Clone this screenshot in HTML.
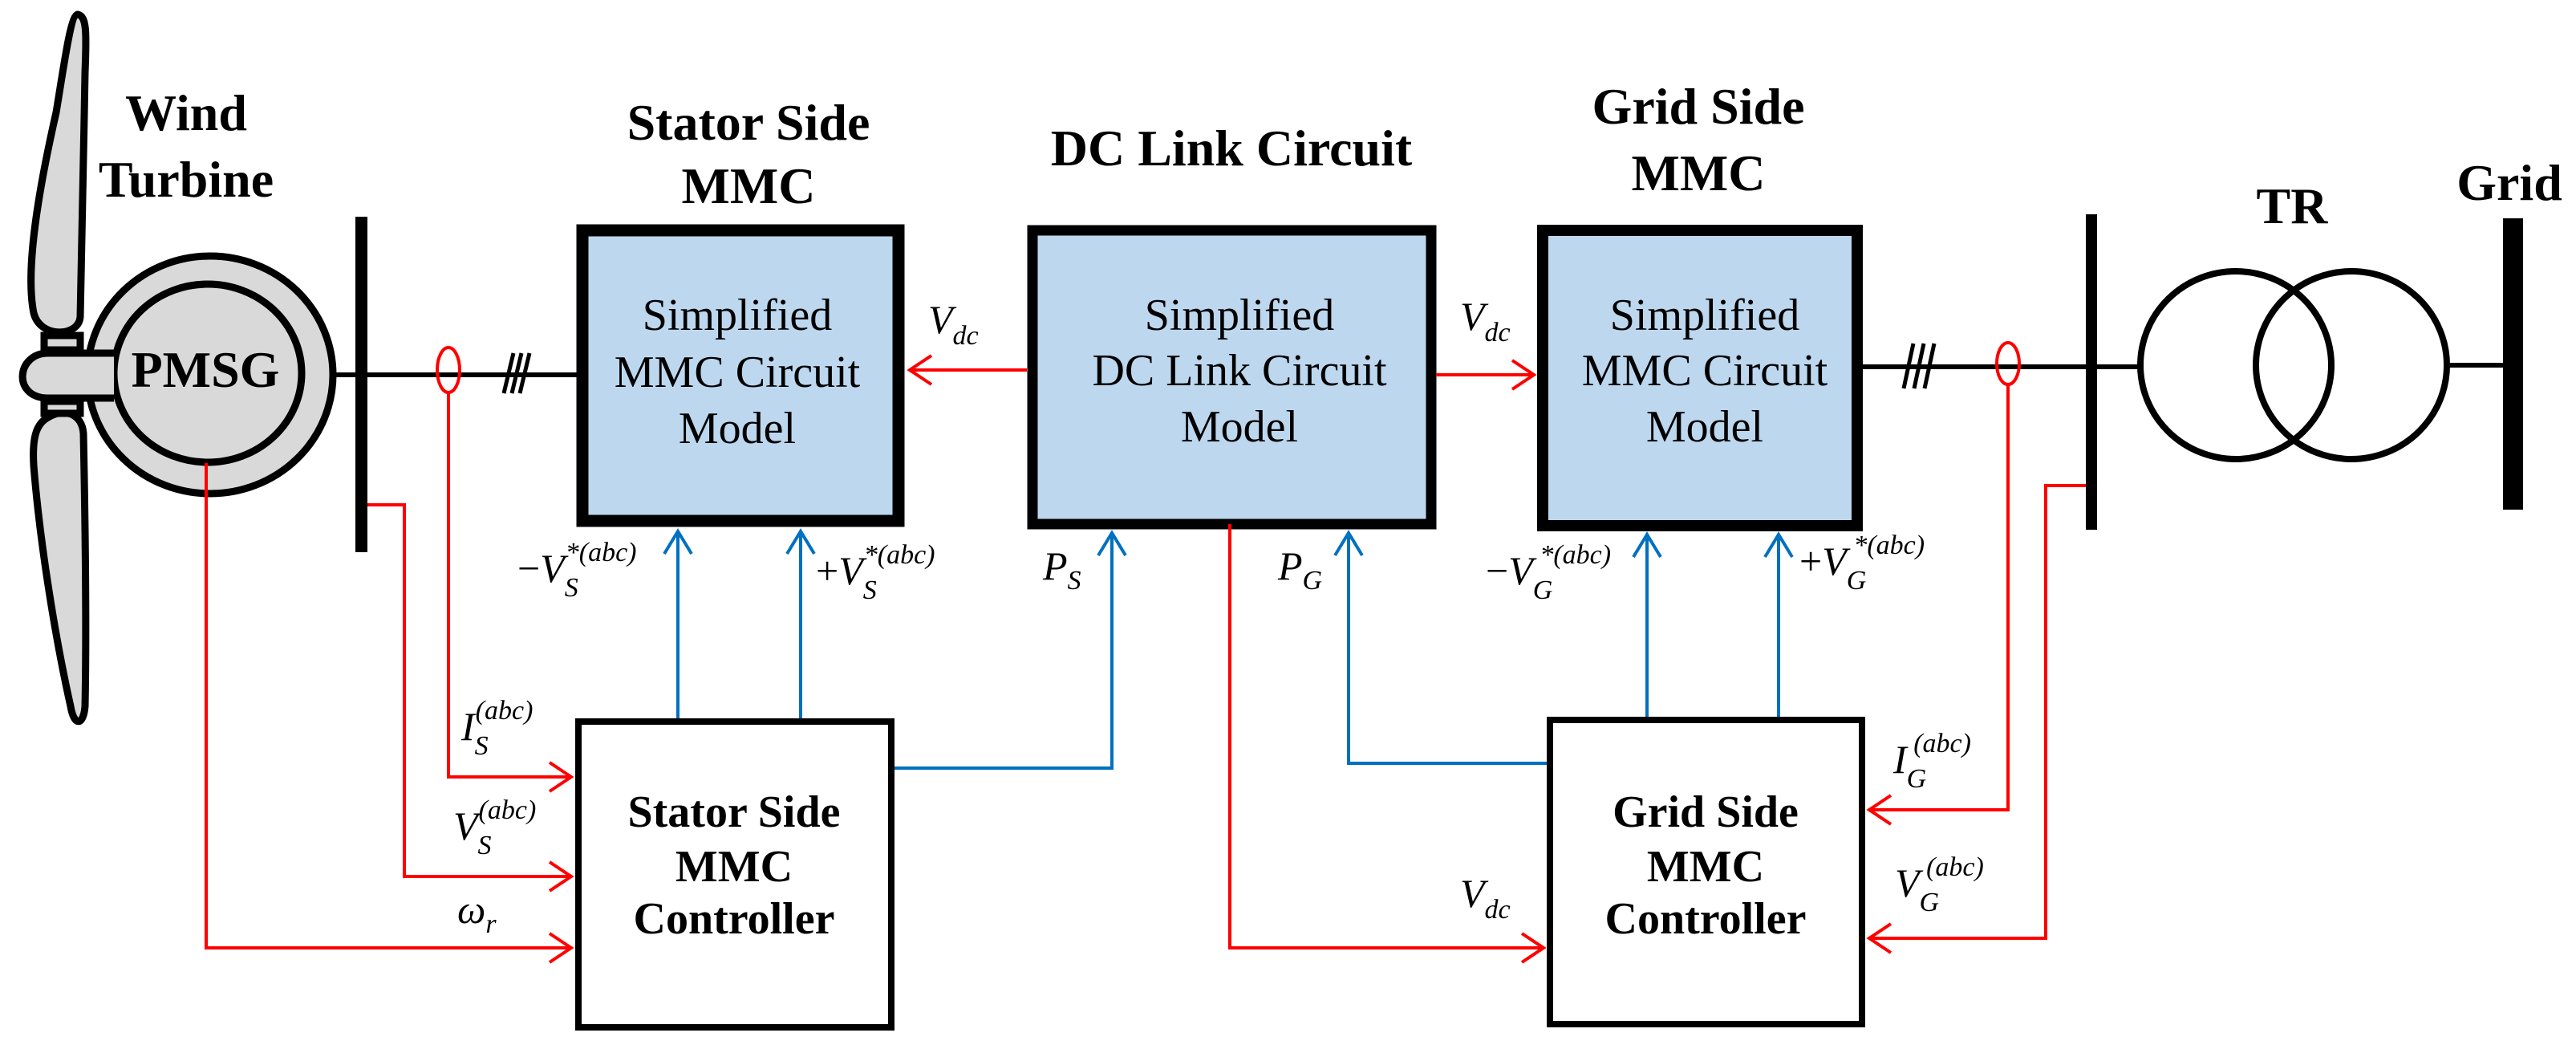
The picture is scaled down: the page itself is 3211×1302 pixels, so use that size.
<!DOCTYPE html>
<html><head><meta charset="utf-8"><style>
html,body{margin:0;padding:0;background:#fff;}
svg{display:block;}
text{font-family:"Liberation Serif","DejaVu Serif","Times New Roman",serif;}
.t{font-weight:bold;fill:#000;}
.m{font-style:normal;fill:#000;}
.i{font-style:italic;fill:#000;}
</style></head><body>
<svg width="3211" height="1302" viewBox="0 0 3211 1302" xmlns="http://www.w3.org/2000/svg" font-family="Liberation Serif, DejaVu Serif, serif">
<g fill="#d9d9d9" stroke="#000" stroke-width="9">
<path d="M97,18 C108,20 108,40 106,90 C104,200 102,320 100,395 C98,420 50,422 42,390 C32,340 45,250 70,140 C80,80 88,18 97,18 Z"/>
<path d="M60,520 C80,508 102,515 104,540 C106,640 108,780 106,880 C104,905 92,905 88,880 C70,800 50,680 42,580 C40,545 45,528 60,520 Z"/>
<rect x="55" y="418" width="45" height="18"/>
<rect x="55" y="500" width="45" height="15"/>
<ellipse cx="262" cy="467" rx="153" ry="148"/>
<ellipse cx="259" cy="465" rx="117" ry="111"/>
<path d="M142,440 L60,440 C20,440 15,496 60,496 L142,496"/>
</g>
<text class="t" font-family="Liberation Serif, serif" x="256" y="482" font-size="64" text-anchor="middle">PMSG</text>
<text class="t" font-family="Liberation Serif, serif" x="232" y="162" font-size="64" text-anchor="middle">Wind</text>
<text class="t" font-family="Liberation Serif, serif" x="232" y="245" font-size="64" text-anchor="middle">Turbine</text>
<rect x="443" y="270" width="15" height="418" fill="#000"/>
<line x1="415" y1="467" x2="719" y2="467" stroke="#000" stroke-width="6"/>
<g stroke="#000" stroke-width="5"><line x1="628" y1="490" x2="640" y2="440"/><line x1="638" y1="490" x2="650" y2="440"/><line x1="648" y1="490" x2="660" y2="440"/></g>
<rect x="726" y="287" width="394" height="362" fill="#bdd7ee" stroke="#000" stroke-width="15"/>
<text class="t" font-family="Liberation Serif, serif" x="933" y="174" font-size="64" text-anchor="middle">Stator Side</text>
<text class="t" font-family="Liberation Serif, serif" x="933" y="253" font-size="64" text-anchor="middle">MMC</text>
<g class="m" font-family="Liberation Serif, serif" font-size="56" text-anchor="middle"><text x="919" y="411">Simplified</text><text x="919" y="482">MMC Circuit</text><text x="919" y="552">Model</text></g>
<rect x="1287" y="287" width="497" height="366" fill="#bdd7ee" stroke="#000" stroke-width="13"/>
<text class="t" font-family="Liberation Serif, serif" x="1535" y="206" font-size="64" text-anchor="middle">DC Link Circuit</text>
<g class="m" font-family="Liberation Serif, serif" font-size="56" text-anchor="middle"><text x="1545" y="411">Simplified</text><text x="1545" y="480">DC Link Circuit</text><text x="1545" y="550">Model</text></g>
<rect x="1923" y="287" width="392" height="368" fill="#bdd7ee" stroke="#000" stroke-width="14"/>
<text class="t" font-family="Liberation Serif, serif" x="2117" y="154" font-size="64" text-anchor="middle">Grid Side</text>
<text class="t" font-family="Liberation Serif, serif" x="2117" y="237" font-size="64" text-anchor="middle">MMC</text>
<g class="m" font-family="Liberation Serif, serif" font-size="56" text-anchor="middle"><text x="2125" y="411">Simplified</text><text x="2125" y="480">MMC Circuit</text><text x="2125" y="550">Model</text></g>
<line x1="2322" y1="457" x2="2667" y2="457" stroke="#000" stroke-width="6"/>
<g stroke="#000" stroke-width="5"><line x1="2373" y1="484" x2="2385" y2="428"/><line x1="2386" y1="484" x2="2398" y2="428"/><line x1="2399" y1="484" x2="2411" y2="428"/></g>
<rect x="2600" y="267" width="14" height="393" fill="#000"/>
<g fill="none" stroke="#000" stroke-width="8"><ellipse cx="2787" cy="455" rx="119" ry="117"/><ellipse cx="2931" cy="455" rx="119" ry="117"/></g>
<line x1="3050" y1="455" x2="3122" y2="455" stroke="#000" stroke-width="6"/>
<rect x="3120" y="272" width="25" height="363" fill="#000"/>
<text class="t" font-family="Liberation Serif, serif" x="2857" y="278" font-size="64" text-anchor="middle">TR</text>
<text class="t" font-family="Liberation Serif, serif" x="3128" y="249" font-size="64" text-anchor="middle">Grid</text>
<rect x="721" y="899" width="390" height="381" fill="#fff" stroke="#000" stroke-width="8"/>
<g class="t" font-family="Liberation Serif, serif" font-size="56" text-anchor="middle"><text x="915" y="1030">Stator Side</text><text x="915" y="1098">MMC</text><text x="915" y="1163">Controller</text></g>
<rect x="1932" y="897" width="389" height="379" fill="#fff" stroke="#000" stroke-width="8"/>
<g class="t" font-family="Liberation Serif, serif" font-size="56" text-anchor="middle"><text x="2126" y="1030">Grid Side</text><text x="2126" y="1098">MMC</text><text x="2126" y="1163">Controller</text></g>
<g fill="none" stroke="#ff0000" stroke-width="4">
<ellipse cx="559" cy="461" rx="14" ry="28"/>
<polyline points="559,489 559,968 712,968"/><polyline points="685,950 712,968 685,986"/>
<polyline points="458,629 504,629 504,1092 712,1092"/><polyline points="685,1074 712,1092 685,1110"/>
<polyline points="257,577 257,1181 712,1181"/><polyline points="685,1163 712,1181 685,1199"/>
<polyline points="1280,461 1134,461"/><polyline points="1161,443 1134,461 1161,479"/>
<polyline points="1790,467 1912,467"/><polyline points="1885,449 1912,467 1885,485"/>
<polyline points="1533,653 1533,1181 1924,1181"/><polyline points="1897,1163 1924,1181 1897,1199"/>
<ellipse cx="2503" cy="453" rx="14" ry="26"/>
<polyline points="2503,479 2503,1009 2330,1009"/><polyline points="2357,991 2330,1009 2357,1027"/>
<polyline points="2600,605 2550,605 2550,1169 2330,1169"/><polyline points="2357,1151 2330,1169 2357,1187"/>
</g>
<g fill="none" stroke="#0070c0" stroke-width="4">
<line x1="845" y1="895" x2="845" y2="662"/><polyline points="828,690 845,662 862,690"/>
<line x1="998" y1="895" x2="998" y2="662"/><polyline points="981,690 998,662 1015,690"/>
<polyline points="1115,957 1386,957 1386,664"/><polyline points="1369,692 1386,664 1403,692"/>
<polyline points="1928,951 1681,951 1681,664"/><polyline points="1664,692 1681,664 1698,692"/>
<line x1="2053" y1="893" x2="2053" y2="666"/><polyline points="2036,694 2053,666 2070,694"/>
<line x1="2217" y1="893" x2="2217" y2="666"/><polyline points="2200,694 2217,666 2234,694"/>
</g>
<g font-size="50" font-family="Liberation Serif, serif">
<text x="645" y="725" class="i"><tspan class="m">−</tspan>V<tspan font-size="34" dy="18">S</tspan><tspan font-size="34" dy="-44" dx="-16">*(abc)</tspan></text>
<text x="1017" y="728" class="i"><tspan class="m">+</tspan>V<tspan font-size="34" dy="18">S</tspan><tspan font-size="34" dy="-44" dx="-16">*(abc)</tspan></text>
<text x="575" y="922" class="i">I<tspan font-size="34" dy="18">S</tspan><tspan font-size="34" dy="-44" dx="-16">(abc)</tspan></text>
<text x="565" y="1046" class="i">V<tspan font-size="34" dy="18">S</tspan><tspan font-size="34" dy="-44" dx="-16">(abc)</tspan></text>
<text x="570" y="1150" class="i">ω<tspan font-size="34" dy="12">r</tspan></text>
<text x="1157" y="415" class="i">V<tspan font-size="34" dy="14">dc</tspan></text>
<text x="1820" y="411" class="i">V<tspan font-size="34" dy="14">dc</tspan></text>
<text x="1820" y="1130" class="i">V<tspan font-size="34" dy="14">dc</tspan></text>
<text x="1300" y="722" class="i">P<tspan font-size="34" dy="12">S</tspan></text>
<text x="1593" y="722" class="i">P<tspan font-size="34" dy="12">G</tspan></text>
<text x="1852" y="728" class="i"><tspan class="m">−</tspan>V<tspan font-size="34" dy="18">G</tspan><tspan font-size="34" dy="-44" dx="-16">*(abc)</tspan></text>
<text x="2243" y="716" class="i"><tspan class="m">+</tspan>V<tspan font-size="34" dy="18">G</tspan><tspan font-size="34" dy="-44" dx="-16">*(abc)</tspan></text>
<text x="2360" y="963" class="i">I<tspan font-size="34" dy="18">G</tspan><tspan font-size="34" dy="-44" dx="-16">(abc)</tspan></text>
<text x="2362" y="1117" class="i">V<tspan font-size="34" dy="18">G</tspan><tspan font-size="34" dy="-44" dx="-16">(abc)</tspan></text>
</g>
</svg>
</body></html>
